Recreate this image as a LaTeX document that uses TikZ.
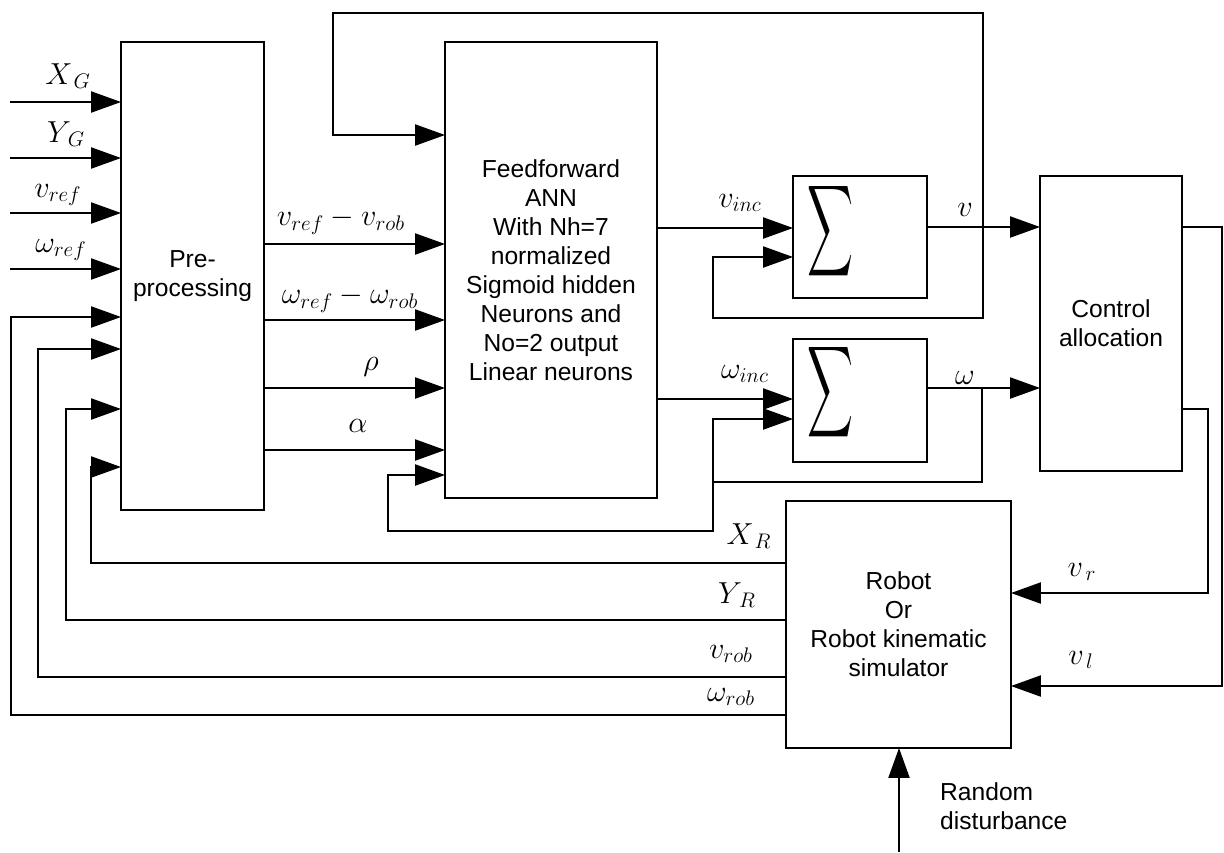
\documentclass[tikz,border=0pt]{standalone}
\usepackage{amsmath,amssymb}
\usepackage{fontspec}
\setmainfont{Liberation Sans}
\usepackage{tikz}
\usetikzlibrary{arrows.meta, positioning, calc}
\tikzset{
  block/.style={draw, line width=1pt, inner sep=0pt, outer sep=0pt, align=center, font=\fontsize{14}{16.5}\selectfont},
  wire/.style={line width=1pt},
  sig/.style={line width=1pt, -{Triangle[length=17pt, width=12pt]}},
  lbl/.style={font=\fontsize{17}{20}\selectfont, inner sep=0pt},
}
\newcommand{\sumsign}{\resizebox{9.2mm}{13.4mm}{$\displaystyle\sum$}}

\begin{document}
\begin{tikzpicture}[x=0.2mm, y=-0.2mm]
  \useasboundingbox (0,0) rectangle (1224,852);

  % blocks
  \node[block, minimum width=28.6mm, minimum height=93.6mm] (pre) at (192.5,276) {Pre-\\processing};
  \node[block, minimum width=42.4mm, minimum height=91.2mm] (ann) at (551,270) {Feedforward\\ANN\\With Nh=7\\normalized\\Sigmoid hidden\\Neurons and\\No=2 output\\Linear neurons};
  \node[block, minimum width=26.8mm, minimum height=24.4mm] (sum1) at (860,237) {};
  \node[block, minimum width=26.8mm, minimum height=24.6mm] (sum2) at (860,400.5) {};
  \node (sig1) at (830,231) {\sumsign};
  \node (sig2) at (830,392) {\sumsign};
  \node[block, minimum width=28.4mm, minimum height=59mm] (ctrl) at (1111,323.5) {Control\\allocation};
  \node[block, minimum width=45mm, minimum height=49.4mm] (robot) at (898.5,624.5) {Robot\\Or\\Robot kinematic\\simulator};

  % goal and reference inputs
  \foreach \y/\nm in {102/XG, 158/YG, 213/vref, 269/wref} {
    \coordinate (in\nm) at (10,\y);
    \draw[sig] (in\nm) -- (in\nm -| pre.west);
  }
  \node[lbl] (lXG) at (68,76) {$X_{\,G}$};
  \node[lbl] (lYG) at (66,134) {$Y_{\,G}$};
  \node[lbl] (lvref) at (58,195) {$v_{ref}$};
  \node[lbl] (lwref) at (61,250) {$\omega_{ref}$};

  % pre-processing to ANN
  \foreach \y/\nm in {244/e1, 320/e2, 388/rho, 450/alpha} {
    \coordinate (o\nm) at (264,\y);
    \draw[sig] (o\nm) -- (o\nm -| ann.west);
  }
  \node[lbl] (le1) at (341,221) {$v_{ref}-v_{rob}$};
  \node[lbl] (le2) at (350,299) {$\omega_{ref}-\omega_{rob}$};
  \node[lbl] (lrho) at (371,367) {$\rho$};
  \node[lbl] (lalpha) at (358,426) {$\alpha$};

  % ANN to summers
  \coordinate (vinc) at (657,228);
  \coordinate (winc) at (657,399);
  \draw[sig] (vinc) -- (vinc -| sum1.west);
  \draw[sig] (winc) -- (winc -| sum2.west);
  \node[lbl] (lvinc) at (740,203) {$v_{inc}$};
  \node[lbl] (lwinc) at (745,374) {$\omega_{inc}$};

  % summer outputs
  \coordinate (vout) at (927,227);
  \coordinate (vj) at (983,227);
  \coordinate (wout) at (927,388);
  \coordinate (wj) at (982,388);
  \draw[sig] (vout) -- (vout -| ctrl.west);
  \draw[sig] (wout) -- (wout -| ctrl.west);
  \node[lbl] (lv) at (965,210) {$v$};
  \node[lbl] (lw) at (965,378) {$\omega$};

  % feedback loops
  \coordinate (topR) at (983,13);
  \coordinate (topL) at (333,13);
  \coordinate (annfb) at (333,135);
  \draw[sig] (vj) -- (topR) -- (topL) -- (annfb) -- (annfb -| ann.west);
  \coordinate (s1lo) at (713,318);
  \coordinate (s1fb) at (713,257);
  \draw[sig] (vj) -- (vj |- s1lo) -- (s1lo) -- (s1fb) -- (s1fb -| sum1.west);
  \coordinate (s2lo) at (713,482);
  \coordinate (s2fb) at (713,419);
  \draw[sig] (wj) -- (wj |- s2lo) -- (s2lo) -- (s2fb) -- (s2fb -| sum2.west);
  \coordinate (annlo1) at (713,531);
  \coordinate (annlo2) at (388,531);
  \coordinate (annfb2) at (388,475);
  \draw[sig] (s2lo) -- (annlo1) -- (annlo2) -- (annfb2) -- (annfb2 -| ann.west);

  % control allocation to robot
  \coordinate (c1) at (1182,227);
  \coordinate (c1r) at (1222,227);
  \coordinate (vlin) at (1222,686);
  \draw[sig] (c1) -- (c1r) -- (vlin) -- (vlin -| robot.east);
  \coordinate (c2) at (1182,409);
  \coordinate (c2r) at (1208,409);
  \coordinate (vrin) at (1208,593);
  \draw[sig] (c2) -- (c2r) -- (vrin) -- (vrin -| robot.east);
  \node[lbl] (lvr) at (1082,572) {$v_{\,r}$};
  \node[lbl] (lvl) at (1081,660) {$v_{\,l}$};

  % robot states back to pre-processing
  \foreach \y/\x/\t/\nm in {563/91/467/XR, 620/66/409/YR, 677/38/349/vrob, 715/11/317/wrob} {
    \coordinate (r\nm) at (786,\y);
    \coordinate (k\nm) at (\x,\y);
    \coordinate (p\nm) at (\x,\t);
    \draw[sig] (r\nm) -- (k\nm) -- (p\nm) -- (p\nm -| pre.west);
  }
  \node[lbl] (lXR) at (749,536) {$X_{\,R}$};
  \node[lbl] (lYR) at (737,595) {$Y_{\,R}$};
  \node[lbl] (lvrob) at (731,654) {$v_{rob}$};
  \node[lbl] (lwrob) at (731,697) {$\omega_{rob}$};

  % disturbance
  \coordinate (rd) at (899,852);
  \draw[sig] (rd) -- (rd |- robot.south);
  \node[anchor=west, align=left, font=\fontsize{14}{16.5}\selectfont] (lrd) at (934,806) {Random\\disturbance};
\end{tikzpicture}
\end{document}
